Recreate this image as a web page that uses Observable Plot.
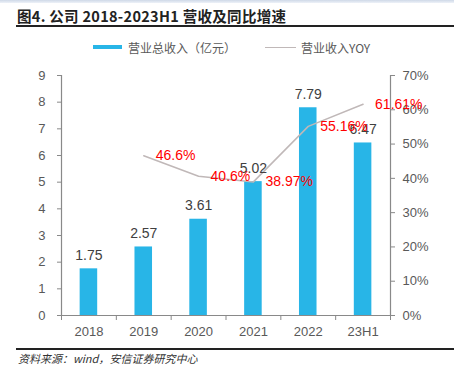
<!DOCTYPE html>
<html><head><meta charset="utf-8">
<script src="https://cdn.jsdelivr.net/npm/d3@7"></script>
<script src="https://cdn.jsdelivr.net/npm/@observablehq/plot@0.6"></script>
<style>
body{margin:0;background:#fff;}
#wrap{position:relative;width:454px;height:368px;overflow:hidden;background:#fff;font-family:"Liberation Sans",Arial,sans-serif;}
#band{position:absolute;left:0;top:0;width:454px;height:3px;background:linear-gradient(#cfd9e8,#eef2f8);}
#title{position:absolute;left:17px;top:5px;font-family:"Noto Sans CJK SC",sans-serif;font-weight:bold;font-size:14.5px;color:#222;white-space:nowrap;letter-spacing:0.3px;}
#tline{position:absolute;left:16px;top:25px;width:438px;height:1.5px;background:#222;}
.leg{position:absolute;top:39px;font-family:"Noto Sans CJK SC",sans-serif;font-size:12px;color:#595959;white-space:nowrap;}
#sw1{position:absolute;left:93px;top:45px;width:29px;height:4px;background:#28b5e7;}
#sw2{position:absolute;left:265px;top:47px;width:31px;height:1px;background:#c0b8b8;}
#chart{position:absolute;left:0;top:60px;}
#fline{position:absolute;left:16px;top:348px;width:438px;height:1.5px;background:#222;}
#foot{position:absolute;left:18px;top:350px;font-family:"Noto Sans CJK SC",sans-serif;font-style:italic;font-size:11px;color:#333;white-space:nowrap;}
</style></head>
<body>
<div id="wrap">
  <div id="band"></div>
  <div id="title">图4. 公司 2018-2023H1 营收及同比增速</div>
  <div id="tline"></div>
  <div id="sw1"></div><div class="leg" style="left:128px">营业总收入（亿元）</div>
  <div id="sw2"></div><div class="leg" style="left:301px">营业收入YOY</div>
  <div id="chart"></div>
  <div id="fline"></div>
  <div id="foot">资料来源：wind，安信证券研究中心</div>
</div>
<script>
const categories = ["2018", "2019", "2020", "2021", "2022", "23H1"];
const revenue = [1.75, 2.57, 3.61, 5.02, 7.79, 6.47];
const yoy = [null, 46.6, 40.6, 38.97, 55.16, 61.61];
const yoyLabels = ["", "46.6%", "40.6%", "38.97%", "55.16%", "61.61%"];
const leftTicks = [0,1,2,3,4,5,6,7,8,9];
const rightTicks = [0,10,20,30,40,50,60,70];

const LMAX = 9, RMAX = 70;
const data = categories.map((c, i) => ({i, c, rev: revenue[i], yoy: yoy[i], yl: yoyLabels[i]}));
const lineData = data.filter(d => d.yoy != null);
const toLeft = p => p / RMAX * LMAX;
const halfBar = 0.16;
const axisColor = "#898989";
const tickText = "#595959";

const chart = Plot.plot({
  width: 454, height: 280,
  marginLeft: 61, marginRight: 64, marginTop: 15, marginBottom: 25,
  style: {fontFamily: "Liberation Sans, Arial, sans-serif", fontSize: "13px", color: tickText, background: "transparent"},
  x: {type: "linear", domain: [-0.5, categories.length - 0.5], axis: null, label: null},
  y: {domain: [0, LMAX], axis: null, label: null},
  marks: [
    Plot.rectY(data, {x1: d => d.i - halfBar, x2: d => d.i + halfBar, y1: 0, y2: "rev", fill: "#28b5e7"}),
    // left axis
    Plot.ruleX([-0.5], {stroke: axisColor, strokeWidth: 1.2}),
    Plot.axisY({anchor: "left", label: null, ticks: leftTicks, tickSize: 4, tickPadding: 12, stroke: axisColor, fill: tickText, fontSize: 13}),
    // right axis
    Plot.ruleX([categories.length - 0.5], {stroke: axisColor, strokeWidth: 1.2}),
    Plot.axisY({anchor: "right", label: null, ticks: rightTicks.map(toLeft), tickFormat: v => Math.round(v / LMAX * RMAX) + "%", tickSize: 4, tickPadding: 8, stroke: axisColor, fill: tickText, fontSize: 13}),
    // x axis
    Plot.ruleY([0], {stroke: axisColor, strokeWidth: 1.2, x1: -0.57, x2: categories.length - 0.43}),
    Plot.axisX({label: null, ticks: d3.range(-0.5, categories.length), tickSize: 5, tickFormat: () => "", stroke: axisColor}),
    Plot.axisX({label: null, ticks: d3.range(categories.length), tickSize: 0, tickPadding: 11, tickFormat: i => categories[i], fill: tickText, fontSize: 13}),
    // yoy line
    Plot.line(lineData, {x: "i", y: d => toLeft(d.yoy), stroke: "#c0b8b8", strokeWidth: 1.5}),
    // bar value labels
    Plot.text(data, {x: "i", y: "rev", text: d => d.rev.toFixed(2), lineAnchor: "bottom", dy: -9, fill: "#404040", fontSize: 14}),
    // yoy labels
    Plot.text(lineData, {x: "i", y: d => toLeft(d.yoy), text: "yl", textAnchor: "start", dx: 12, fill: "#ff0000", fontSize: 14})
  ]
});
document.getElementById("chart").appendChild(chart);
</script>
</body></html>
